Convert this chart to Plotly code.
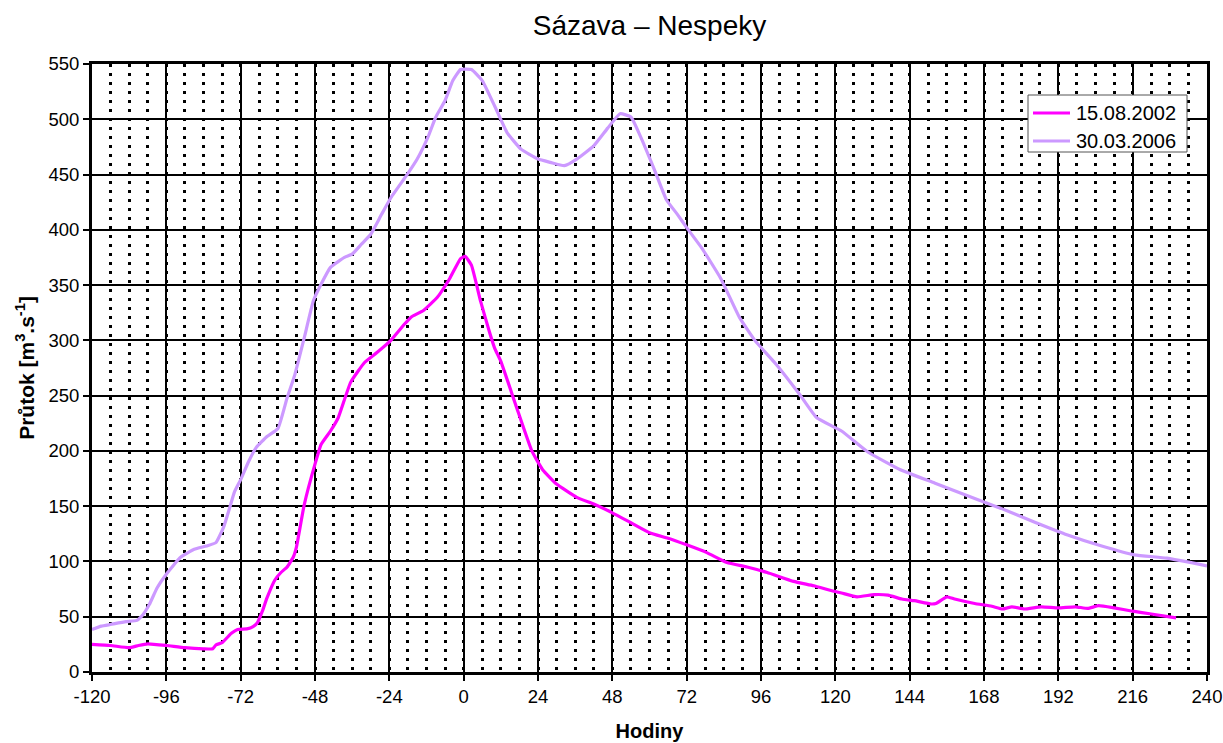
import plotly.graph_objects as go

# ---- data ----
hours_2002 = [-120, -114, -108, -105, -102, -96, -90, -84, -81, -80, -78, -75, -73, -70, -68,
              -66.5, -65, -63.5, -61, -59, -57, -55, -54, -51.5, -48, -46, -43, -40.5, -36.5,
              -32, -28, -23.5, -19, -17, -13, -8.5, -4.5, -1, 0.5, 2.5, 5.5, 8.5, 10, 12, 17,
              22, 25.5, 30, 36.5, 42, 48, 54, 60, 66, 72, 78.5, 85, 91.5, 98, 106.5, 113,
              119.5, 122, 127, 132.5, 137, 141.5, 145.5, 151, 152.5, 156, 158.5, 165, 170.5,
              174, 177, 181, 186.5, 192, 197.5, 201.5, 205, 210, 216, 222, 230]
flow_2002 = [25, 24, 22, 24, 25.5, 24, 22, 21, 21, 24.5, 26.5, 35, 38.5, 39, 41,
             45, 55, 67, 83, 90, 95, 104, 113, 151, 188, 206, 218, 230, 262,
             280, 289, 300, 315, 321, 327, 339, 356, 374, 376, 368, 335, 306, 293, 281, 240,
             200, 183, 170, 158, 152, 144, 135, 126, 121, 115, 108, 99, 95, 90, 82, 78,
             73, 71.5, 68, 70, 69.5, 66, 64.5, 61.5, 62, 68, 66, 62, 59.5,
             57, 59, 57, 59, 58, 59, 57.5, 60, 58, 55, 52.5, 49]

hours_2006 = [-120, -117, -114, -109, -105.5, -103.5, -101.5, -99, -96, -91.5, -87, -83, -80,
              -77.5, -75.5, -74, -72, -69.5, -67, -63.5, -60, -57, -54.5, -51.5, -48.5, -46,
              -43, -38.5, -36, -33, -30, -26.5, -23.5, -18, -15, -11.5, -9, -6, -3.5, -1,
              2.5, 6, 10, 14, 18.5, 24, 28, 32.5, 36.5, 42, 46.5, 50.5, 54, 57, 61.5, 65.5,
              69, 72, 77, 83, 89, 94, 101, 108.5, 114, 122, 130.5, 141, 152, 165, 173.5,
              184, 195, 206, 216.5, 227, 240]
flow_2006 = [38.5, 41.5, 43, 45.5, 46.7, 52, 61, 76, 88.5, 103.5, 111, 114, 117,
             131, 149, 163, 174, 190, 203, 213, 220, 248, 269, 302, 336, 351,
             366, 375, 378, 387, 396, 414, 429, 451, 464, 484, 502, 517, 535, 545,
             545, 535, 512, 488, 473, 464, 461, 458, 464, 476, 492, 505, 502, 485, 455, 427,
             414, 402, 383, 356, 321, 300, 278, 251, 230, 218, 199, 183, 171, 157, 148,
             136, 124, 114, 106, 103, 96]

series_names = ["15.08.2002", "30.03.2006"]
series_colors = ["#FF00FF", "#CC99FF"]
x_ticks = list(range(-120, 241, 24))
y_ticks = list(range(0, 551, 50))

FONT = "Liberation Sans, Arial, sans-serif"

W, H = 1223, 743
ML, MR, MT, MB = 92, 16, 64, 71
PW, PH = W - ML - MR, H - MT - MB


def px(x):
    return (x - ML) / PW


def py(y):
    return (H - MB - y) / PH


fig = go.Figure()
for hx, fy, nm, col in [(hours_2002, flow_2002, series_names[0], series_colors[0]),
                        (hours_2006, flow_2006, series_names[1], series_colors[1])]:
    fig.add_trace(go.Scatter(x=hx, y=fy, mode="lines", name=nm, showlegend=False,
                             line=dict(color=col, width=3.2, shape="spline", smoothing=0.4)))

# legend (box, line samples, labels) in page pixels
shapes = [dict(type="rect", xref="paper", yref="paper", x0=px(1028), x1=px(1187),
               y0=py(152), y1=py(95), fillcolor="white", line=dict(color="#555555", width=1),
               layer="above")]
annotations = []
for i, (nm, col) in enumerate(zip(series_names, series_colors)):
    yy = 113 + 28 * i
    shapes.append(dict(type="line", xref="paper", yref="paper", x0=px(1033), x1=px(1070),
                       y0=py(yy), y1=py(yy), line=dict(color=col, width=3.2), layer="above"))
    annotations.append(dict(text=nm, xref="paper", yref="paper", x=px(1074), y=py(yy),
                            xanchor="left", yanchor="middle", showarrow=False,
                            font=dict(family=FONT, size=20, color="black")))

fig.update_layout(
    width=W, height=H,
    margin=dict(l=ML, r=MR, t=MT, b=MB, autoexpand=False),
    paper_bgcolor="white", plot_bgcolor="white",
    font=dict(family=FONT, size=18, color="black"),
    title=dict(text="Sázava – Nespeky", x=(ML + PW / 2) / W,
               xanchor="center", y=1 - 25 / H, yanchor="middle",
               font=dict(family=FONT, size=28, color="black")),
    showlegend=False,
    shapes=shapes,
    annotations=annotations,
)

fig.update_xaxes(
    range=[-120, 240], tickvals=x_ticks, ticktext=[str(v) for v in x_ticks],
    showgrid=True, gridcolor="black", gridwidth=1.6,
    minor=dict(dtick=6, tick0=-120, showgrid=True, gridcolor="black", gridwidth=2.5,
               griddash="3px,6px", ticks=""),
    ticks="outside", ticklen=6, tickwidth=1.5, tickcolor="black",
    showline=True, linewidth=3, linecolor="black", mirror=True,
    zeroline=False, tickfont=dict(size=18.5), automargin=False,
    title=dict(text="<b>Hodiny</b>", font=dict(size=20), standoff=18),
)
fig.update_yaxes(
    range=[0, 550], tickvals=y_ticks,
    showgrid=True, gridcolor="black", gridwidth=1.6,
    ticks="outside", ticklen=6, tickwidth=1.5, tickcolor="black",
    showline=True, linewidth=3, linecolor="black", mirror=True,
    zeroline=False, tickfont=dict(size=18.5), automargin=False,
    title=dict(text="<b>Průtok [m<sup>3</sup>.s<sup>-1</sup>]</b>", font=dict(size=21), standoff=9),
)

fig.write_html("out.html", config={"displayModeBar": False},
               post_script="document.body.style.margin='0';document.body.style.overflow='hidden';")
